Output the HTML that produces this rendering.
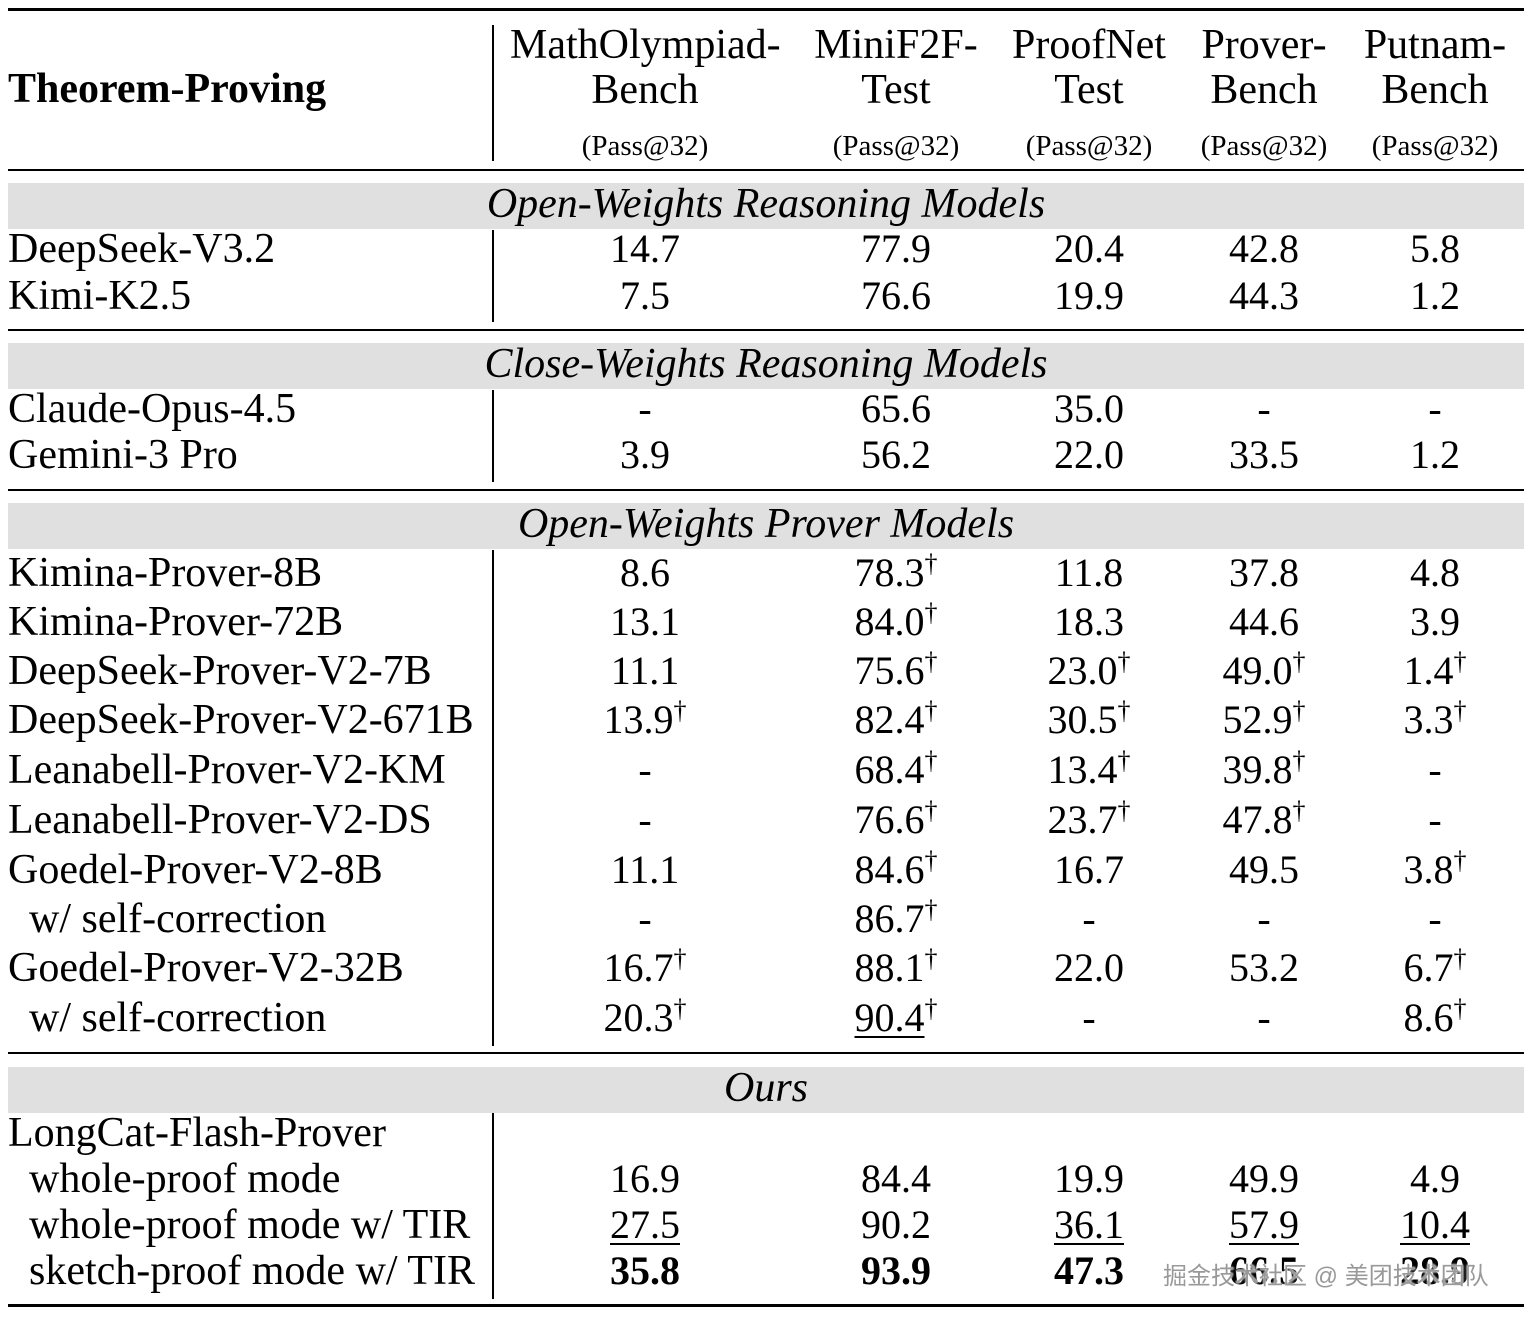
<!DOCTYPE html>
<html><head><meta charset="utf-8"><style>
body{margin:0;width:1532px;height:1318px;background:#fff;position:relative;overflow:hidden;font-family:"Liberation Serif",serif;color:#000}
.a{position:absolute}
.h{position:absolute;left:8px;width:1516px;background:#000}
.band{position:absolute;left:8px;width:1516px;background:#e0e0e0;height:46px}
.v{position:absolute;left:492px;width:1.5px;background:#000}
.t{position:absolute;height:44px;line-height:44px;font-size:42px;white-space:nowrap}
.c{position:absolute;width:240px;text-align:center;height:44px;line-height:44px;font-size:40px;white-space:nowrap}
.hd{font-size:42px}
sup{font-size:26px;vertical-align:0;position:relative;top:-14px}
.sec{position:absolute;left:8px;width:1516px;text-align:center;font-style:italic;font-size:42px;height:46px;line-height:46px}
.sm{font-size:29px}
u{text-decoration-thickness:2px;text-underline-offset:5px}
</style></head><body>
<div class="h" style="top:8px;height:3px"></div>
<div class="h" style="top:169px;height:2px"></div>
<div class="h" style="top:329px;height:2px"></div>
<div class="h" style="top:489px;height:2px"></div>
<div class="h" style="top:1052px;height:2px"></div>
<div class="h" style="top:1304px;height:3px"></div>
<div class="band" style="top:183px"></div>
<div class="band" style="top:343px"></div>
<div class="band" style="top:503px"></div>
<div class="band" style="top:1067px"></div>
<div class="v" style="top:25px;height:136px"></div>
<div class="v" style="top:230px;height:92px"></div>
<div class="v" style="top:390px;height:92px"></div>
<div class="v" style="top:550px;height:496px"></div>
<div class="v" style="top:1113px;height:186px"></div>

<div class="t" style="left:8px;top:67px;font-weight:bold">Theorem-Proving</div>
<div class="c hd" style="left:510px;top:23px">MathOlympiad-</div>
<div class="c hd" style="left:525px;top:68px">Bench</div>
<div class="c sm" style="left:525px;top:124px">(Pass@32)</div>
<div class="c hd" style="left:776px;top:23px">MiniF2F-</div>
<div class="c hd" style="left:776px;top:68px">Test</div>
<div class="c sm" style="left:776px;top:124px">(Pass@32)</div>
<div class="c hd" style="left:969px;top:23px">ProofNet</div>
<div class="c hd" style="left:969px;top:68px">Test</div>
<div class="c sm" style="left:969px;top:124px">(Pass@32)</div>
<div class="c hd" style="left:1144px;top:23px">Prover-</div>
<div class="c hd" style="left:1144px;top:68px">Bench</div>
<div class="c sm" style="left:1144px;top:124px">(Pass@32)</div>
<div class="c hd" style="left:1315px;top:23px">Putnam-</div>
<div class="c hd" style="left:1315px;top:68px">Bench</div>
<div class="c sm" style="left:1315px;top:124px">(Pass@32)</div>

<div class="sec" style="top:181px">Open-Weights Reasoning Models</div>
<div class="sec" style="top:341px">Close-Weights Reasoning Models</div>
<div class="sec" style="top:501px">Open-Weights Prover Models</div>
<div class="sec" style="top:1065px">Ours</div>

<div class="t" style="left:8px;top:227px">DeepSeek-V3.2</div>
<div class="c" style="left:525px;top:227px">14.7</div><div class="c" style="left:776px;top:227px">77.9</div><div class="c" style="left:969px;top:227px">20.4</div><div class="c" style="left:1144px;top:227px">42.8</div><div class="c" style="left:1315px;top:227px">5.8</div>
<div class="t" style="left:8px;top:274px">Kimi-K2.5</div>
<div class="c" style="left:525px;top:274px">7.5</div><div class="c" style="left:776px;top:274px">76.6</div><div class="c" style="left:969px;top:274px">19.9</div><div class="c" style="left:1144px;top:274px">44.3</div><div class="c" style="left:1315px;top:274px">1.2</div>

<div class="t" style="left:8px;top:387px">Claude-Opus-4.5</div>
<div class="c" style="left:525px;top:387px">-</div><div class="c" style="left:776px;top:387px">65.6</div><div class="c" style="left:969px;top:387px">35.0</div><div class="c" style="left:1144px;top:387px">-</div><div class="c" style="left:1315px;top:387px">-</div>
<div class="t" style="left:8px;top:433px">Gemini-3 Pro</div>
<div class="c" style="left:525px;top:433px">3.9</div><div class="c" style="left:776px;top:433px">56.2</div><div class="c" style="left:969px;top:433px">22.0</div><div class="c" style="left:1144px;top:433px">33.5</div><div class="c" style="left:1315px;top:433px">1.2</div>

<div class="t" style="left:8px;top:551px">Kimina-Prover-8B</div>
<div class="c" style="left:525px;top:551px">8.6</div><div class="c" style="left:776px;top:551px">78.3<sup>†</sup></div><div class="c" style="left:969px;top:551px">11.8</div><div class="c" style="left:1144px;top:551px">37.8</div><div class="c" style="left:1315px;top:551px">4.8</div>
<div class="t" style="left:8px;top:600px">Kimina-Prover-72B</div>
<div class="c" style="left:525px;top:600px">13.1</div><div class="c" style="left:776px;top:600px">84.0<sup>†</sup></div><div class="c" style="left:969px;top:600px">18.3</div><div class="c" style="left:1144px;top:600px">44.6</div><div class="c" style="left:1315px;top:600px">3.9</div>
<div class="t" style="left:8px;top:649px">DeepSeek-Prover-V2-7B</div>
<div class="c" style="left:525px;top:649px">11.1</div><div class="c" style="left:776px;top:649px">75.6<sup>†</sup></div><div class="c" style="left:969px;top:649px">23.0<sup>†</sup></div><div class="c" style="left:1144px;top:649px">49.0<sup>†</sup></div><div class="c" style="left:1315px;top:649px">1.4<sup>†</sup></div>
<div class="t" style="left:8px;top:698px">DeepSeek-Prover-V2-671B</div>
<div class="c" style="left:525px;top:698px">13.9<sup>†</sup></div><div class="c" style="left:776px;top:698px">82.4<sup>†</sup></div><div class="c" style="left:969px;top:698px">30.5<sup>†</sup></div><div class="c" style="left:1144px;top:698px">52.9<sup>†</sup></div><div class="c" style="left:1315px;top:698px">3.3<sup>†</sup></div>
<div class="t" style="left:8px;top:748px">Leanabell-Prover-V2-KM</div>
<div class="c" style="left:525px;top:748px">-</div><div class="c" style="left:776px;top:748px">68.4<sup>†</sup></div><div class="c" style="left:969px;top:748px">13.4<sup>†</sup></div><div class="c" style="left:1144px;top:748px">39.8<sup>†</sup></div><div class="c" style="left:1315px;top:748px">-</div>
<div class="t" style="left:8px;top:798px">Leanabell-Prover-V2-DS</div>
<div class="c" style="left:525px;top:798px">-</div><div class="c" style="left:776px;top:798px">76.6<sup>†</sup></div><div class="c" style="left:969px;top:798px">23.7<sup>†</sup></div><div class="c" style="left:1144px;top:798px">47.8<sup>†</sup></div><div class="c" style="left:1315px;top:798px">-</div>
<div class="t" style="left:8px;top:848px">Goedel-Prover-V2-8B</div>
<div class="c" style="left:525px;top:848px">11.1</div><div class="c" style="left:776px;top:848px">84.6<sup>†</sup></div><div class="c" style="left:969px;top:848px">16.7</div><div class="c" style="left:1144px;top:848px">49.5</div><div class="c" style="left:1315px;top:848px">3.8<sup>†</sup></div>
<div class="t" style="left:29px;top:897px">w/ self-correction</div>
<div class="c" style="left:525px;top:897px">-</div><div class="c" style="left:776px;top:897px">86.7<sup>†</sup></div><div class="c" style="left:969px;top:897px">-</div><div class="c" style="left:1144px;top:897px">-</div><div class="c" style="left:1315px;top:897px">-</div>
<div class="t" style="left:8px;top:946px">Goedel-Prover-V2-32B</div>
<div class="c" style="left:525px;top:946px">16.7<sup>†</sup></div><div class="c" style="left:776px;top:946px">88.1<sup>†</sup></div><div class="c" style="left:969px;top:946px">22.0</div><div class="c" style="left:1144px;top:946px">53.2</div><div class="c" style="left:1315px;top:946px">6.7<sup>†</sup></div>
<div class="t" style="left:29px;top:996px">w/ self-correction</div>
<div class="c" style="left:525px;top:996px">20.3<sup>†</sup></div><div class="c" style="left:776px;top:996px"><u>90.4</u><sup>†</sup></div><div class="c" style="left:969px;top:996px">-</div><div class="c" style="left:1144px;top:996px">-</div><div class="c" style="left:1315px;top:996px">8.6<sup>†</sup></div>

<div class="t" style="left:8px;top:1111px">LongCat-Flash-Prover</div>
<div class="t" style="left:29px;top:1157px">whole-proof mode</div>
<div class="c" style="left:525px;top:1157px">16.9</div><div class="c" style="left:776px;top:1157px">84.4</div><div class="c" style="left:969px;top:1157px">19.9</div><div class="c" style="left:1144px;top:1157px">49.9</div><div class="c" style="left:1315px;top:1157px">4.9</div>
<div class="t" style="left:29px;top:1203px">whole-proof mode w/ TIR</div>
<div class="c" style="left:525px;top:1203px"><u>27.5</u></div><div class="c" style="left:776px;top:1203px">90.2</div><div class="c" style="left:969px;top:1203px"><u>36.1</u></div><div class="c" style="left:1144px;top:1203px"><u>57.9</u></div><div class="c" style="left:1315px;top:1203px"><u>10.4</u></div>
<div class="t" style="left:29px;top:1249px">sketch-proof mode w/ TIR</div>
<div class="c" style="left:525px;top:1249px;font-weight:bold">35.8</div><div class="c" style="left:776px;top:1249px;font-weight:bold">93.9</div><div class="c" style="left:969px;top:1249px;font-weight:bold">47.3</div><div class="c" style="left:1144px;top:1249px;font-weight:bold">66.5</div><div class="c" style="left:1315px;top:1249px;font-weight:bold">28.9</div>

<div class="a" style="left:1163px;top:1256px;font-family:'Liberation Sans','Noto Sans CJK SC',sans-serif;font-size:24px;color:#999;white-space:nowrap;text-shadow:0 0 2px #fff,0 0 2px #fff">掘金技术社区 @ 美团技术团队</div>
</body></html>
